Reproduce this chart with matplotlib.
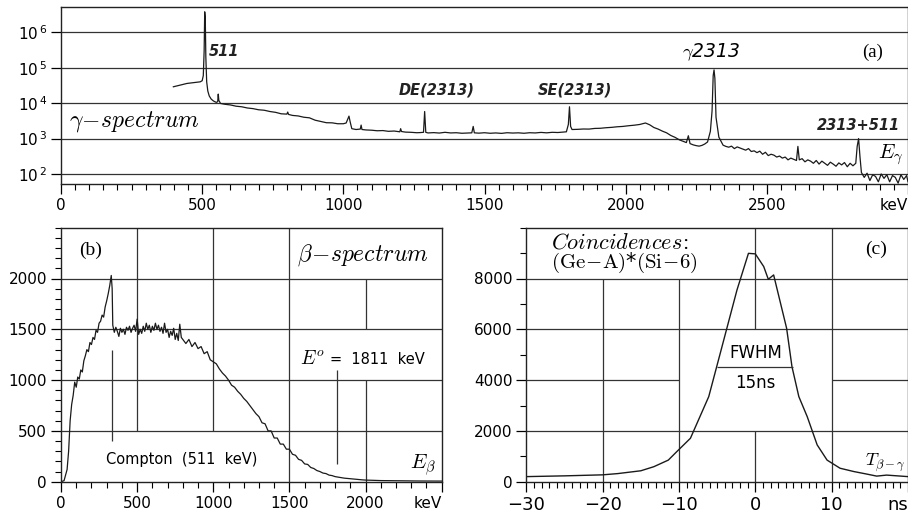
import numpy as np
import matplotlib
matplotlib.use('Agg')
import matplotlib.pyplot as plt
from matplotlib.ticker import MultipleLocator, NullLocator

# ---- (a) gamma spectrum ----
e_gamma = [398, 420, 446, 470, 493, 500, 504, 507, 509, 511, 513, 516, 520, 525, 532,
           540, 550, 555, 557, 559, 565, 580, 600, 620, 640, 660, 680, 700, 720, 740,
           760, 780, 800, 803, 806, 820, 840, 860, 880, 900, 920, 940, 960, 980, 1000,
           1010, 1016, 1020, 1024, 1030, 1045, 1060, 1063, 1066, 1080, 1100, 1120, 1140,
           1160, 1180, 1200, 1203, 1206, 1220, 1240, 1260, 1270, 1284, 1288, 1292, 1300,
           1320, 1340, 1360, 1380, 1400, 1420, 1440, 1455, 1460, 1464, 1480, 1500, 1520,
           1540, 1560, 1580, 1600, 1620, 1640, 1660, 1680, 1700, 1720, 1740, 1760, 1780,
           1790, 1797, 1801, 1805, 1810, 1830, 1850, 1870, 1890, 1910, 1930, 1950, 1970,
           1990, 2010, 2030, 2050, 2070, 2085, 2100, 2115, 2130, 2145, 2160, 2175, 2190,
           2205, 2215, 2222, 2228, 2240, 2250, 2260, 2270, 2280, 2290, 2300, 2306, 2310,
           2313, 2316, 2320, 2330, 2345, 2355, 2365, 2375, 2385, 2395, 2405, 2415, 2425,
           2435, 2445, 2455, 2465, 2475, 2485, 2495, 2505, 2515, 2525, 2535, 2545, 2555,
           2565, 2575, 2585, 2595, 2605, 2610, 2615, 2625, 2635, 2645, 2655, 2665, 2675,
           2685, 2695, 2705, 2715, 2725, 2735, 2745, 2755, 2765, 2775, 2785, 2795, 2805,
           2815, 2820, 2825, 2830, 2835, 2845, 2855, 2865, 2875, 2885, 2895, 2905, 2915,
           2925, 2935, 2945, 2955, 2965, 2975, 2985, 2995, 3000]
c_gamma = [2.9e4, 3.2e4, 3.6e4, 3.8e4, 4.0e4, 4.3e4, 6e4, 3e5, 3.8e6, 2.5e6, 2e5, 4e4, 2.2e4, 1.6e4, 1.3e4,
           1.15e4, 1.05e4, 1.1e4, 1.8e4, 1.2e4, 9.8e3, 9.3e3, 8.9e3, 8.2e3, 7.9e3, 7.3e3, 7.0e3, 6.5e3, 6.3e3, 5.8e3,
           5.5e3, 5.0e3, 4.9e3, 5.6e3, 4.8e3, 4.5e3, 4.35e3, 4.0e3, 3.85e3, 3.3e3, 3.05e3, 2.8e3, 2.78e3, 2.62e3, 2.62e3,
           2.75e3, 3.6e3, 4.3e3, 3.0e3, 1.9e3, 1.8e3, 1.85e3, 2.4e3, 1.8e3, 1.75e3, 1.72e3, 1.66e3, 1.68e3,
           1.6e3, 1.63e3, 1.55e3, 1.9e3, 1.58e3, 1.52e3, 1.5e3, 1.46e3, 1.47e3, 1.5e3, 5.8e3, 1.5e3, 1.44e3,
           1.47e3, 1.43e3, 1.5e3, 1.44e3, 1.46e3, 1.41e3, 1.43e3, 1.45e3, 2.2e3, 1.45e3, 1.42e3, 1.46e3, 1.41e3,
           1.44e3, 1.4e3, 1.46e3, 1.43e3, 1.45e3, 1.41e3, 1.46e3, 1.44e3, 1.49e3, 1.45e3, 1.5e3, 1.48e3, 1.53e3,
           1.55e3, 2.5e3, 7.9e3, 2.2e3, 1.8e3, 1.82e3, 1.86e3, 1.85e3, 1.93e3, 1.95e3, 2.02e3, 2.07e3, 2.15e3,
           2.2e3, 2.3e3, 2.38e3, 2.5e3, 2.75e3, 2.45e3, 2.05e3, 1.85e3, 1.62e3, 1.45e3, 1.22e3, 1.08e3, 920,
           830, 770, 1200, 720, 660, 630, 610, 640, 700, 800, 1.6e3, 6e3, 6e4,
           8.7e4, 5e4, 4e3, 1.1e3, 650, 600, 570, 610, 520, 580, 540, 500, 470,
           520, 430, 450, 400, 440, 360, 410, 330, 360, 340, 300, 320, 280,
           300, 250, 280, 260, 240, 600, 250, 270, 220, 250, 230, 200, 240,
           190, 230, 200, 175, 215, 190, 165, 205, 180, 210, 160, 200, 170,
           200, 600, 1000, 300, 110, 80, 105, 65, 95, 85, 60, 100, 75,
           95, 60, 90, 80, 55, 95, 70, 90, 60]

# ---- (b) beta spectrum ----
e_beta = [0, 20, 40, 50, 60, 70, 80, 90, 100, 110, 120, 130, 140, 150, 160, 170, 180, 190,
          200, 210, 220, 230, 240, 250, 260, 270, 280, 290, 300, 310, 320, 330, 336, 340,
          350, 360, 370, 380, 390, 400, 410, 420, 430, 440, 450, 460, 470, 480, 490, 500,
          510, 520, 530, 540, 550, 560, 570, 580, 590, 600, 610, 620, 630, 640, 650, 660,
          670, 680, 690, 700, 710, 720, 730, 740, 750, 760, 770, 780, 790, 800, 820, 840,
          860, 880, 900, 920, 940, 960, 980, 1000, 1020, 1040, 1060, 1080, 1100, 1120, 1140,
          1160, 1180, 1200, 1220, 1240, 1260, 1280, 1300, 1320, 1340, 1360, 1380, 1400, 1420,
          1440, 1460, 1480, 1500, 1520, 1540, 1560, 1580, 1600, 1620, 1640, 1660, 1680, 1700,
          1720, 1740, 1760, 1780, 1800, 1820, 1840, 1860, 1880, 1900, 1920, 1940, 1960, 1980,
          2000, 2050, 2100, 2150, 2200, 2250, 2300, 2350, 2400, 2450, 2500]
n_beta = [0, 10, 120, 300, 600, 760, 850, 980, 930, 1030, 1010, 1100, 1080, 1190, 1240, 1300, 1280, 1370,
          1350, 1420, 1400, 1490, 1470, 1560, 1580, 1640, 1620, 1720, 1780, 1850, 1930, 2030, 1900, 1540,
          1470, 1520, 1480, 1430, 1510, 1470, 1500, 1450, 1520, 1490, 1530, 1470, 1510, 1540, 1480, 1600,
          1450, 1500, 1460, 1530, 1480, 1560, 1500, 1540, 1470, 1530, 1490, 1560, 1500, 1540, 1480, 1520,
          1460, 1560, 1470, 1500, 1420, 1480, 1440, 1510, 1400, 1460, 1390, 1550, 1420, 1400, 1360, 1400,
          1330, 1370, 1310, 1330, 1260, 1280, 1200, 1180, 1160, 1110, 1070, 1040, 1000, 950, 930,
          890, 860, 820, 790, 750, 710, 670, 640, 580, 570, 500, 500, 430, 430,
          370, 370, 320, 320, 270, 260, 220, 210, 175, 170, 140, 130, 110, 100,
          85, 80, 65, 60, 50, 45, 40, 35, 32, 28, 25, 22, 20, 18,
          16, 13, 11, 10, 9, 8, 8, 7, 7, 6, 6]

# ---- (c) coincidence time spectrum ----
t_coinc = [-30, -25, -20, -18, -15, -13.3, -11.4, -10.3, -8.5, -6.1, -4.6, -3.5, -2.4, -0.9,
           0, 1.1, 1.7, 2.4, 4.1, 4.8, 5.7, 6.8, 8.1, 9.4, 11.1, 12.9, 14.6, 15.9, 17.2, 20]
n_coinc = [200, 230, 270, 320, 430, 590, 850, 1180, 1710, 3350, 5050, 6300, 7550, 8990,
           8970, 8470, 7970, 8140, 6040, 4530, 3350, 2560, 1450, 850, 530, 400, 300, 220, 260, 200]

W, H = 908, 514
fig = plt.figure(figsize=(W / 100, H / 100), dpi=100)
plt.rcParams['font.family'] = 'DejaVu Sans'

line_col = '#1a1a1a'
grid_col = '#333333'
lab_kw = dict(fontsize=10.5, fontweight='bold', style='italic', color='#222222')


def style_axes(ax):
    for s in ax.spines.values():
        s.set_linewidth(1.0)
        s.set_color('#222222')
    ax.tick_params(which='major', direction='out', length=7, width=0.9, labelsize=11, pad=3)
    ax.tick_params(which='minor', direction='out', length=4.5, width=0.8)


# ---- (a) ----
axa = fig.add_axes([61 / W, 1 - 184 / H, 1 - 61 / W, 177 / H])
axa.plot(e_gamma, c_gamma, color=line_col, lw=0.9)
axa.set_yscale('log')
axa.set_xlim(0, 3000)
axa.set_ylim(52, 5.2e6)
axa.set_yticks([1e2, 1e3, 1e4, 1e5, 1e6])
axa.set_yticklabels([r'$10^{\,2}$', r'$10^{\,3}$', r'$10^{\,4}$', r'$10^{\,5}$', r'$10^{\,6}$'])
axa.yaxis.set_minor_locator(NullLocator())
axa.set_xticks([0, 500, 1000, 1500, 2000, 2500, 3000])
axa.set_xticklabels(['0', '500', '1000', '1500', '2000', '2500', 'keV'])
axa.get_xticklabels()[-1].set_ha('right')
axa.xaxis.set_minor_locator(MultipleLocator(50))
style_axes(axa)
axa.grid(axis='y', which='major', color=grid_col, lw=0.9)
axa.set_axisbelow(True)

axa.text(525, 2.8e5, '511', ha='left', va='center', **lab_kw)
axa.text(1330, 2.3e4, 'DE(2313)', ha='center', va='center', **lab_kw)
axa.text(1820, 2.3e4, 'SE(2313)', ha='center', va='center', **lab_kw)
axa.text(2823, 2.3e3, '2313+511', ha='center', va='center', **lab_kw)
axa.text(2302, 2.8e5, r'$\gamma$2313', ha='center', va='center', fontsize=13.5, style='italic',
         math_fontfamily='cm')
axa.text(2873, 2.8e5, '(a)', ha='center', va='center', fontsize=13.5, family='Liberation Serif')
axa.text(2940, 350, r'$E_\gamma$', ha='center', va='center', fontsize=15, math_fontfamily='cm')
axa.text(30, 3.0e3, r'$\gamma\!-\!spectrum$', ha='left', va='center', fontsize=17,
         math_fontfamily='cm')

# ---- (b) ----
axb = fig.add_axes([61 / W, 1 - 481.7 / H, 380.7 / W, 254 / H])
axb.plot(e_beta, n_beta, color=line_col, lw=0.9)
axb.set_xlim(0, 2500)
axb.set_ylim(0, 2500)
axb.set_xticks([0, 500, 1000, 1500, 2000, 2500])
axb.set_xticklabels(['0', '500', '1000', '1500', '2000', 'keV'])
axb.get_xticklabels()[-1].set_ha('right')
axb.set_yticks([0, 500, 1000, 1500, 2000])
axb.xaxis.set_minor_locator(MultipleLocator(100))
axb.yaxis.set_minor_locator(MultipleLocator(100))
style_axes(axb)
axb.hlines([500, 1000, 1500, 2000], 0, 2500, color=grid_col, lw=0.9, zorder=0)
axb.vlines([500, 1000], 500, 2500, color=grid_col, lw=0.9, zorder=0)
axb.vlines(1500, 0, 2500, color=grid_col, lw=0.9, zorder=0)
axb.vlines([2000, 2000], [0, 1500], [1000, 2000], color=grid_col, lw=0.9, zorder=0)
axb.vlines(335, 400, 1300, color=grid_col, lw=0.9)
axb.vlines(1811, 170, 1100, color=grid_col, lw=0.9)

axb.text(192, 2280, '(b)', ha='center', va='center', fontsize=14, family='Liberation Serif')
axb.text(1983, 2230, r'$\beta\!-\!spectrum$', ha='center', va='center', fontsize=17,
         math_fontfamily='cm')
axb.text(1735, 1215, r'$E^{o}$', ha='right', va='center', fontsize=14, math_fontfamily='cm')
axb.text(1766, 1200, '=  1811  keV', ha='left', va='center', fontsize=10.5)
axb.text(792, 220, 'Compton  (511  keV)', ha='center', va='center', fontsize=10.5)
axb.text(2379, 165, r'$E_\beta$', ha='center', va='center', fontsize=15, math_fontfamily='cm')

# ---- (c) ----
axc = fig.add_axes([526.3 / W, 1 - 481.7 / H, 1 - 526.3 / W, 254 / H])
axc.plot(t_coinc, n_coinc, color=line_col, lw=1.0)
axc.set_xlim(-30, 20)
axc.set_ylim(0, 10000)
axc.set_xticks([-30, -20, -10, 0, 10, 20])
axc.set_xticklabels(['\u221230', '\u221220', '\u221210', '0', '10', 'ns'])
axc.get_xticklabels()[-1].set_ha('right')
axc.set_yticks([0, 2000, 4000, 6000, 8000])
axc.xaxis.set_minor_locator(MultipleLocator(1))
axc.yaxis.set_minor_locator(MultipleLocator(1000))
style_axes(axc)
axc.tick_params(axis='x', which='major', labelsize=13)
axc.hlines([2000, 6000, 8000], -30, 20, color=grid_col, lw=0.9, zorder=0)
axc.hlines([4000, 4000], [-30, 10], [-10, 20], color=grid_col, lw=0.9, zorder=0)
axc.vlines([-20, -10], 0, 8000, color=grid_col, lw=0.9, zorder=0)
axc.vlines([0, 0], [0, 6000], [2000, 10000], color=grid_col, lw=0.9, zorder=0)
axc.vlines(10, 0, 10000, color=grid_col, lw=0.9, zorder=0)
axc.hlines(4500, -5, 5, color=grid_col, lw=0.9)

axc.text(-26.8, 9400, r'$Coincidences\!:$', ha='left', va='center', fontsize=16,
         math_fontfamily='cm')
axc.text(-26.8, 8600, r'$(\mathrm{Ge}\!-\!\mathrm{A})$*$(\mathrm{Si}\!-\!6)$', ha='left',
         va='center', fontsize=15, math_fontfamily='cm')
axc.text(15.8, 9130, '(c)', ha='center', va='center', fontsize=14, family='Liberation Serif')
axc.text(0, 5080, 'FWHM', ha='center', va='center', fontsize=12)
axc.text(0, 3900, '15ns', ha='center', va='center', fontsize=12)
axc.text(19.7, 740, r'$T_{\beta-\gamma}$', ha='right', va='center', fontsize=13,
         math_fontfamily='cm')

fig.savefig('out.png', dpi=100)
